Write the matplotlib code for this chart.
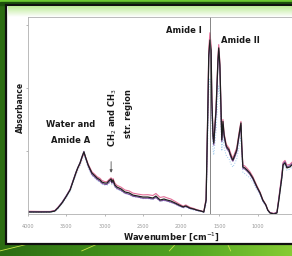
import numpy as np
import matplotlib.pyplot as plt
from matplotlib.patches import Rectangle
from matplotlib.colors import LinearSegmentedColormap

# wavenumber grid (cm-1)
wavenumber = [4000, 3840, 3710, 3650, 3610, 3555, 3505, 3450, 3415, 3375, 3350, 3320, 3295, 3270,
              3245, 3215, 3190, 3165, 3125, 3100, 3060, 3035, 2995, 2970, 2945, 2915, 2905, 2890,
              2865, 2840, 2785, 2735, 2680, 2630, 2565, 2500, 2435, 2370, 2330, 2275, 2225, 2185,
              2135, 2080, 2030, 1975, 1940, 1885, 1835, 1795, 1740, 1705,
              1675, 1665, 1650, 1640, 1625, 1610, 1600, 1585, 1575, 1545, 1520, 1510, 1495, 1480,
              1470, 1455, 1440, 1415, 1405, 1375, 1365, 1340, 1325, 1300, 1275, 1245, 1220, 1210,
              1195, 1170, 1140, 1105, 1065, 1010, 970, 935, 895, 870, 840, 790, 750, 725, 685, 670,
              645, 620, 580, 555]

spec_black = [.010, .010, .010, .015, .030, .056, .086, .122, .162, .208, .234, .259, .289, .315,
              .284, .249, .228, .208, .193, .183, .173, .162, .157, .157, .168, .178, .162, .173,
              .147, .137, .127, .112, .107, .096, .091, .086, .086, .081, .091, .071, .076, .071,
              .066, .056, .046, .036, .041, .030, .025, .020, .015, .010,
              .071, .274, .579, .807, .883, .832, .579, .401, .360, .528, .782, .843, .756, .528,
              .376, .470, .401, .350, .340, .325, .310, .284, .274, .299, .325, .401, .462, .350,
              .239, .234, .223, .208, .183, .137, .107, .071, .046, .020, .005, .000, .005, .071,
              .188, .249, .259, .234, .239, .249]

spec_purple = [.012, .011, .012, .016, .032, .060, .090, .125, .166, .212, .236, .262, .292, .318,
               .280, .245, .222, .200, .186, .176, .166, .156, .150, .150, .160, .170, .156, .165,
               .140, .130, .120, .106, .100, .090, .086, .080, .080, .076, .084, .066, .070, .066,
               .060, .052, .042, .034, .038, .028, .024, .018, .014, .010,
               .065, .260, .560, .790, .865, .815, .560, .390, .350, .515, .765, .828, .740, .515,
               .368, .455, .392, .342, .332, .316, .302, .276, .268, .290, .316, .392, .450, .342,
               .232, .228, .217, .202, .178, .132, .103, .068, .044, .019, .006, .002, .008, .078,
               .196, .255, .265, .240, .245, .255]

spec_pink = [.014, .013, .013, .018, .034, .058, .088, .126, .165, .206, .232, .256, .284, .308,
             .286, .254, .234, .214, .200, .190, .181, .170, .164, .164, .174, .184, .170, .180,
             .156, .146, .136, .122, .117, .106, .101, .097, .098, .094, .104, .084, .088, .082,
             .076, .064, .052, .040, .046, .034, .028, .022, .016, .012,
             .080, .290, .600, .840, .920, .860, .600, .410, .370, .545, .800, .860, .770, .540,
             .386, .480, .410, .360, .350, .334, .320, .294, .284, .310, .336, .412, .470, .360,
             .248, .244, .232, .216, .190, .142, .111, .074, .048, .022, .008, .003, .010, .085,
             .205, .262, .272, .248, .252, .262]

spec_blue = [.008, .008, .008, .012, .026, .050, .080, .114, .152, .196, .222, .246, .274, .298,
             .270, .236, .214, .196, .180, .170, .160, .150, .146, .146, .154, .164, .150, .160,
             .136, .126, .116, .104, .098, .088, .084, .078, .078, .074, .082, .064, .068, .064,
             .058, .050, .040, .030, .034, .024, .020, .016, .012, .008,
             .050, .200, .430, .620, .690, .650, .460, .330, .300, .420, .600, .650, .590, .430,
             .320, .390, .340, .300, .292, .280, .268, .246, .238, .258, .280, .340, .390, .300,
             .210, .205, .196, .184, .162, .122, .095, .062, .040, .016, .004, .000, .006, .066,
             .176, .236, .246, .222, .228, .238]

xticks = [4000, 3500, 3000, 2500, 2000, 1500, 1000]

W, H = 292, 256
fig = plt.figure(figsize=(W / 100, H / 100), dpi=100)

# slide background: green gradient
bg = fig.add_axes([0, 0, 1, 1])
bg.set_zorder(-3)
bg.set_axis_off()
cmap = LinearSegmentedColormap.from_list("slide", ["#2c6c12", "#3f8c1a", "#55a824", "#86cc34"])
bg.imshow(np.linspace(0, 1, 256).reshape(1, -1), aspect="auto", cmap=cmap,
          extent=[0, 1, 0, 1], transform=bg.transAxes)
bg.add_patch(Rectangle((0, 1 - 2 / H), 1, 2 / H, transform=bg.transAxes, color="#6cc830"))
bg.add_patch(Rectangle((0, 1 - 5 / H), 1, 3 / H, transform=bg.transAxes, color="#1c500c"))
for x0, x1 in [(0.0, 0.09), (0.28, 0.33), (0.58, 0.6), (0.79, 0.78)]:
    bg.plot([x0, x1], [0.02, 0.045], color="#c8e448", lw=0.6, transform=bg.transAxes)
bg.set_xlim(0, 1)
bg.set_ylim(0, 1)

# picture frame
fig.patches.append(Rectangle((6 / W, 1 - 244 / H), 1.1, 239 / H, transform=fig.transFigure,
                             facecolor="white", edgecolor="#101010", lw=1.6, zorder=-2))
top = fig.add_axes([8 / W, 1 - 17 / H, 1 - 8 / W, 11 / H])
top.set_zorder(-1)
top.set_axis_off()
top.imshow(np.linspace(1, 0, 32).reshape(-1, 1), aspect="auto",
           cmap=LinearSegmentedColormap.from_list("g", ["white", "#bdeb98"]),
           extent=[0, 1, 0, 1])

# spectrum axes
x_right = 28 + (4000 - 400) / 500 * 38.3
ax = fig.add_axes([28 / W, 1 - 214 / H, (x_right - 28) / W, 197 / H])
ax.set_facecolor("none")
ax.plot(wavenumber, spec_blue, color="#9cc8ec", lw=0.7, ls=":")
ax.plot(wavenumber, spec_pink, color="#e36f98", lw=0.8)
ax.plot(wavenumber, spec_purple, color="#7d4f9e", lw=0.8)
ax.plot(wavenumber, spec_black, color="#202020", lw=0.9)
ax.axvline(1625, color="#555555", lw=0.5)

ax.set_xlim(4000, 400)
ax.set_ylim(0, 1)
ax.set_xticks(xticks)
ax.set_xticklabels([str(t) for t in xticks])
ax.set_yticks([0.32, 0.64, 0.96])
ax.set_yticklabels([])
ax.tick_params(axis="both", length=1.5, width=0.5, colors="#9a9a9a", labelsize=3.5, pad=6)
for side in ["left", "bottom", "top"]:
    ax.spines[side].set_color("#b0b0b0")
    ax.spines[side].set_linewidth(0.6)
ax.spines["right"].set_visible(False)

kw = dict(fontsize=6, fontweight="bold", color="#1a1a1a", ha="center", va="center")
ax.text(1965, 0.934, "Amide I", **kw)
ax.text(1233, 0.883, "Amide II", **kw)
ax.text(3440, 0.452, "Water and", **kw)
ax.text(3450, 0.371, "Amide A", **kw)
ax.text(2890, 0.492, "CH$_2$ and CH$_3$", rotation=90, **kw)
ax.text(2682, 0.508, "str. region", rotation=90, **kw)
ax.annotate("", xy=(2915, 0.195), xytext=(2915, 0.28),
            arrowprops=dict(arrowstyle="-|>", color="#555555", lw=0.6, mutation_scale=4))

fig.text(172 / W, 1 - 237 / H, "Wavenumber [cm$^{-1}$]", fontsize=6, fontweight="bold",
         color="#1a1a1a", ha="center", va="center")
fig.text(20 / W, 1 - 107 / H, "Absorbance", fontsize=5.5, fontweight="bold",
         color="#1a1a1a", ha="center", va="center", rotation=90)

fig.savefig("out.png", dpi=100)
